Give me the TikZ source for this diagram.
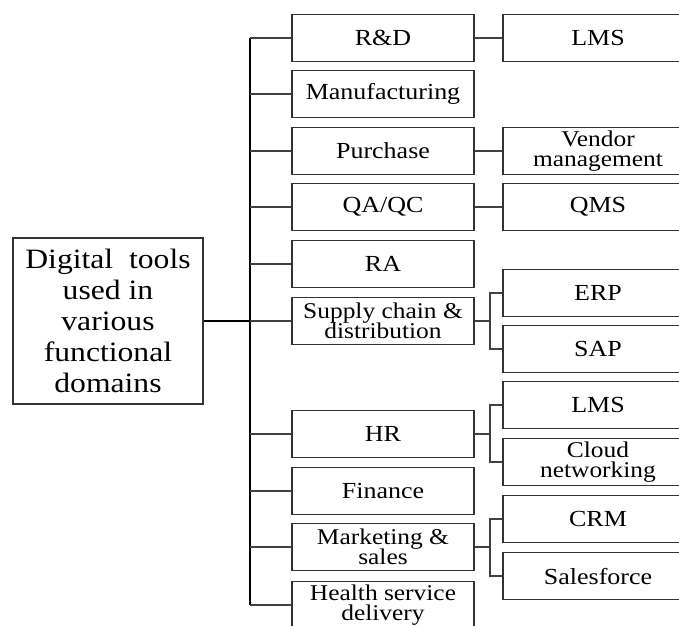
\documentclass[tikz,border=0pt]{standalone}
\usepackage{fontspec}
\setmainfont{Liberation Serif}[FakeStretch=1.13]

\tikzset{
  rootbox/.style={draw=black!80, line width=1.7pt, minimum width=190pt, minimum height=166pt, inner sep=0pt, align=center, font=\fontsize{28}{31}\selectfont},
  dombox/.style={draw=black!80, line width=1.7pt, minimum width=182pt, minimum height=47pt, inner sep=0pt, align=center, font=\fontsize{23}{22}\selectfont},
  toolbox/.style={dombox, minimum width=190pt},
  twoline/.style={font=\fontsize{22.5}{20.5}\selectfont},
  link/.style={draw=black!75, line width=1.8pt},
  trunk/.style={draw=black, line width=2.8pt},
}

\begin{document}
\begin{tikzpicture}[x=1pt, y=-1pt]

 % frame
  \useasboundingbox (0,0) rectangle (679,625);
  \clip (0,0) rectangle (679,625);

 % main box
\node[rootbox] (root) at (108,321) {Digital\ \ tools\\used in\\various\\functional\\domains};

 % functional domains
\node[dombox] (rd) at (383,38) {R\&D};
\node[dombox] (man) at (383,94) {Manufacturing};
\node[dombox] (pur) at (383,151) {Purchase};
\node[dombox] (qa) at (383,207) {QA/QC};
\node[dombox] (ra) at (383,264) {RA};
\node[dombox, twoline] (scd) at (383,321) {Supply chain \&\\distribution};
\node[dombox] (hr) at (383,434) {HR};
\node[dombox] (fin) at (383,491) {Finance};
\node[dombox, twoline] (mks) at (383,547) {Marketing \&\\sales};
\node[dombox, twoline] (hsd) at (383,605) {Health service\\delivery};

 % tools
\node[toolbox] (lms) at (598,38) {LMS};
\node[toolbox, twoline] (vm) at (598,151) {Vendor\\management};
\node[toolbox] (qms) at (598,207) {QMS};
\node[toolbox] (erp) at (598,293) {ERP};
\node[toolbox] (sap) at (598,349) {SAP};
\node[toolbox] (lmshr) at (598,405) {LMS};
\node[toolbox, twoline] (cn) at (598,462) {Cloud\\networking};
\node[toolbox] (crm) at (598,519) {CRM};
\node[toolbox] (sf) at (598,576) {Salesforce};

 % trunk
\coordinate (sp) at (250,0);
\coordinate (br) at (490,0);
\draw[trunk] (sp |- rd.west) -- (sp |- hsd.west);
\draw[trunk] (root.east) -- (root.east -| sp);
\foreach \n in {rd,man,pur,qa,ra,scd,hr,fin,mks,hsd}
  \draw[link] (sp |- \n.west) -- (\n.west);

 % single links
\draw[link] (rd) -- (lms);
\draw[link] (pur) -- (vm);
\draw[link] (qa) -- (qms);

 % forks
\draw[link] (scd.east) -- (scd.east -| br);
\draw[link] (erp.west) -- (erp.west -| br) -- (sap.west -| br) -- (sap.west);
\draw[link] (hr.east) -- (hr.east -| br);
\draw[link] (lmshr.west) -- (lmshr.west -| br) -- (cn.west -| br) -- (cn.west);
\draw[link] (mks.east) -- (mks.east -| br);
\draw[link] (crm.west) -- (crm.west -| br) -- (sf.west -| br) -- (sf.west);
\end{tikzpicture}
\end{document}
